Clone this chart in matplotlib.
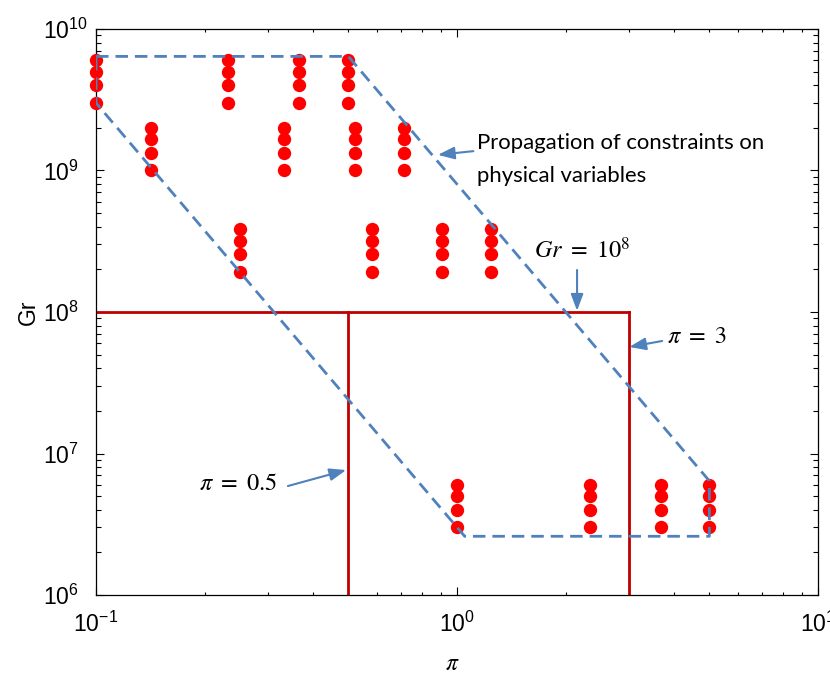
import numpy as np
import matplotlib
matplotlib.use('Agg')
import matplotlib.pyplot as plt
from matplotlib.ticker import FuncFormatter, NullFormatter

plt.rcParams['mathtext.fontset'] = 'stix'
plt.rcParams['font.family'] = ['Liberation Sans', 'DejaVu Sans']

# design points: four Gr values for each pi
pi_a = [0.1, 0.232, 0.365, 0.5]
gr_a = [6e9, 5e9, 4e9, 3e9]
pi_b = [0.142, 0.332, 0.52, 0.713]
gr_b = [2e9, 1.67e9, 1.33e9, 1e9]
pi_c = [0.25, 0.582, 0.908, 1.24]
gr_c = [3.84e8, 3.2e8, 2.56e8, 1.92e8]
pi_d = [1.0, 2.34, 3.67, 5.0]
gr_d = [6e6, 5e6, 4e6, 3e6]

# region from propagating the constraints on physical variables
region_pi = [0.1, 0.5, 5.0, 5.0, 1.05, 0.1, 0.1]
region_gr = [6.4e9, 6.4e9, 6.4e6, 2.6e6, 2.6e6, 3e9, 6.4e9]

# limits
gr_limit = 1e8
pi_low = 0.5
pi_high = 3.0
gr_min = 1e6

blue = '#4F81BD'
red_line = '#C00000'

fig = plt.figure(figsize=(8.3, 6.77), dpi=100)
ax = fig.add_axes([0.1157, 0.1211, 0.8699, 0.8361])
ax.set_xscale('log')
ax.set_yscale('log')
ax.set_xlim(0.1, 10)
ax.set_ylim(1e6, 1e10)

# red limit lines
ax.plot([0.1, pi_high], [gr_limit, gr_limit], color=red_line, lw=2, zorder=2)
ax.plot([pi_low, pi_low], [gr_min, gr_limit], color=red_line, lw=2, zorder=2)
ax.plot([pi_high, pi_high], [gr_min, gr_limit], color=red_line, lw=2, zorder=2)

# points
for xs, ys in [(pi_a, gr_a), (pi_b, gr_b), (pi_c, gr_c), (pi_d, gr_d)]:
    px = np.repeat(xs, len(ys))
    py = np.tile(ys, len(xs))
    ax.plot(px, py, 'o', color='#FF0000', ms=9.6, mec='none', clip_on=False, zorder=3)

# dashed region
ax.plot(region_pi, region_gr, color=blue, lw=2, dashes=(4.5, 2.5), zorder=4)

arrow = dict(arrowstyle='-|>,head_length=0.4,head_width=0.15', color=blue, lw=1.5,
             mutation_scale=25, shrinkA=0, shrinkB=0)

ax.text(1.136, 1.2e9, 'Propagation of constraints on\nphysical variables',
        family=['Lato', 'DejaVu Sans'], fontsize=15.9, ha='left', va='center', linespacing=1.8)
ax.annotate('', xy=(0.885, 1.29e9), xytext=(1.11, 1.37e9), arrowprops=arrow)

ax.text(2.22, 2.74e8, r'$Gr\ =\ 10^8$', fontsize=17.5, ha='center', va='center')
ax.annotate('', xy=(2.15, 1.02e8), xytext=(2.15, 1.98e8), arrowprops=arrow)

ax.text(3.82, 6.65e7, r'$\pi\ =\ 3$', fontsize=17.5, ha='left', va='center')
ax.annotate('', xy=(3.0, 5.66e7), xytext=(3.70, 6.24e7), arrowprops=arrow)

ax.text(0.317, 6.08e6, r'$\pi\ =\ 0.5$', fontsize=17.5, ha='right', va='center')
ax.annotate('', xy=(0.493, 7.64e6), xytext=(0.340, 5.89e6), arrowprops=arrow)

# axes styling
fmt = FuncFormatter(lambda v, p: r'$\mathregular{10^{%d}}$' % round(np.log10(v)))
ax.xaxis.set_major_formatter(fmt)
ax.yaxis.set_major_formatter(fmt)
ax.xaxis.set_minor_formatter(NullFormatter())
ax.yaxis.set_minor_formatter(NullFormatter())
ax.set_yticks([1e6, 1e7, 1e8, 1e9, 1e10])
ax.set_xticks([0.1, 1, 10])

ax.tick_params(which='both', direction='in', top=True, right=True, width=0.8, colors='black')
ax.tick_params(which='major', length=6, labelsize=16.5)
ax.tick_params(axis='x', which='major', pad=12)
ax.tick_params(axis='y', which='major', pad=38)
ax.tick_params(axis='x', which='minor', length=2.5)
ax.tick_params(axis='y', which='minor', length=3.5)
for lab in ax.get_yticklabels():
    lab.set_ha('left')
for s in ax.spines.values():
    s.set_linewidth(0.9)

ax.set_ylabel('Gr', fontsize=16.5)
ax.yaxis.set_label_coords(-0.078, 0.5)
ax.set_xlabel(r'$\pi$', fontsize=17)
ax.xaxis.set_label_coords(0.493, -0.103)
ax.xaxis.label.set_va('top')

fig.savefig('out.png', dpi=100)
